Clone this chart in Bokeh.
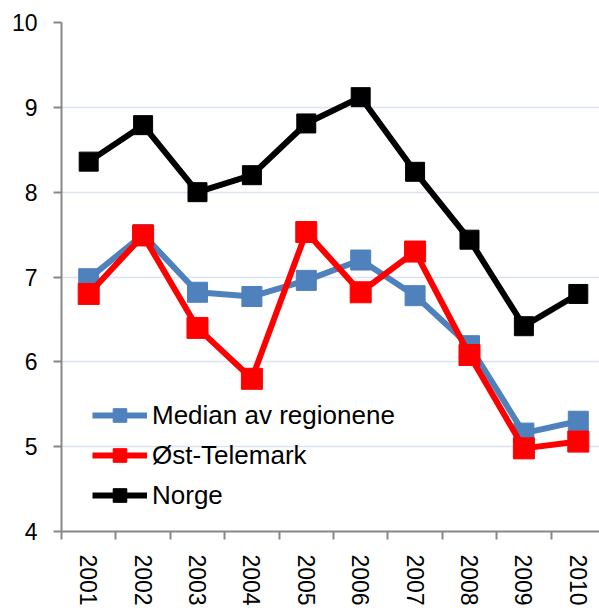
from bokeh.plotting import figure
from bokeh.models import Range1d, FixedTicker, Legend, LegendItem
from bokeh.embed import file_html
from bokeh.resources import INLINE

years = ["2001", "2002", "2003", "2004", "2005", "2006", "2007", "2008", "2009", "2010"]
median = [6.98, 7.50, 6.82, 6.77, 6.96, 7.20, 6.78, 6.19, 5.16, 5.30]
telemark = [6.80, 7.49, 6.40, 5.80, 7.53, 6.82, 7.30, 6.08, 4.98, 5.06]
norge = [8.36, 8.79, 8.00, 8.20, 8.81, 9.12, 8.24, 7.44, 6.42, 6.80]
y_ticks = [4, 5, 6, 7, 8, 9, 10]

xs = [i + 0.5 for i in range(len(years))]
FONT = "Liberation Sans"

p = figure(width=599, height=608, output_backend="svg", toolbar_location=None,
           x_range=Range1d(0, 9.89), y_range=Range1d(4, 10),
           min_border_left=61, min_border_top=22, min_border_right=0, min_border_bottom=0)
p.outline_line_color = None
p.background_fill_color = "white"

# grid
p.xgrid.grid_line_color = None
p.ygrid.grid_line_color = "#d9e3f1"
p.ygrid.grid_line_width = 1.5
p.ygrid.ticker = FixedTicker(ticks=y_ticks)

# y axis
p.yaxis.ticker = FixedTicker(ticks=y_ticks)
p.yaxis.axis_line_color = "#878787"
p.yaxis.axis_line_width = 2
p.yaxis.major_tick_line_color = "#878787"
p.yaxis.major_tick_line_width = 2
p.yaxis.major_tick_in = 0
p.yaxis.major_tick_out = 8
p.yaxis.minor_tick_line_color = None
p.yaxis.major_label_standoff = 16
p.yaxis.major_label_text_font = FONT
p.yaxis.major_label_text_font_size = "23px"
p.yaxis.major_label_text_color = "black"

# x axis: labels at category centres, ticks at boundaries
p.xaxis.ticker = FixedTicker(ticks=xs, minor_ticks=list(range(len(years) + 1)))
p.xaxis.major_label_overrides = {x: y for x, y in zip(xs, years)}
p.xaxis.axis_line_color = "#878787"
p.xaxis.axis_line_width = 2
p.xaxis.major_tick_line_color = None
p.xaxis.major_tick_in = 0
p.xaxis.major_tick_out = 0
p.xaxis.minor_tick_line_color = "#878787"
p.xaxis.minor_tick_line_width = 2
p.xaxis.minor_tick_in = 0
p.xaxis.minor_tick_out = 8
p.xaxis.major_label_standoff = 15
p.xaxis.major_label_orientation = -1.5707963
p.xaxis.major_label_text_font = FONT
p.xaxis.major_label_text_font_size = "23px"
p.xaxis.major_label_text_color = "black"

series = [
    ("Median av regionene", median, "#4f81bd", 20),
    ("Øst-Telemark", telemark, "#ff0000", 21),
    ("Norge", norge, "#000000", 19),
]
items = []
for name, vals, col, size in series:
    l = p.line(xs, vals, line_color=col, line_width=6)
    s = p.scatter(xs, vals, marker="square", size=size, fill_color=col, line_color=col)
    items.append(LegendItem(label=name, renderers=[l, s]))

legend = Legend(items=items, location=(31, 19))
legend.border_line_alpha = 0
legend.background_fill_alpha = 0
legend.padding = 0
legend.margin = 0
legend.spacing = 6
legend.glyph_width = 55
legend.glyph_height = 34
legend.label_height = 34
legend.label_standoff = 5
legend.label_text_font = FONT
legend.label_text_font_size = "26px"
legend.label_text_color = "black"
p.add_layout(legend, "center")

open("out.html", "w").write(file_html(p, INLINE))
